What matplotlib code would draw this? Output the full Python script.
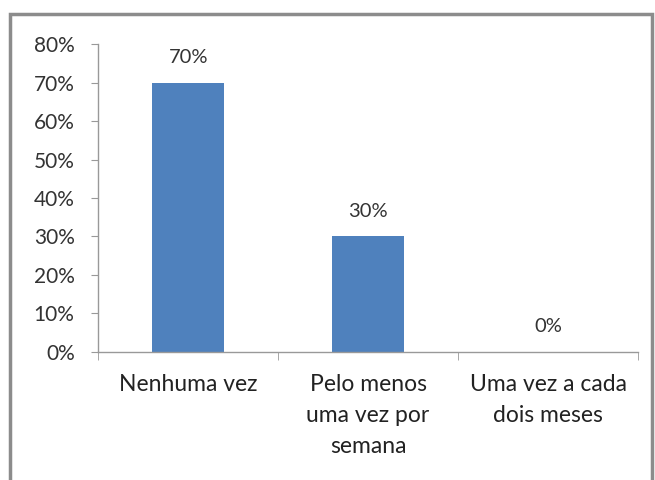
import numpy as np
import matplotlib.pyplot as plt
from matplotlib.patches import Rectangle

# respostas e percentagens
categorias = ["Nenhuma vez", "Pelo menos\numa vez por\nsemana", "Uma vez a cada\ndois meses"]
valores = [70, 30, 0]
rotulos = ["70%", "30%", "0%"]
yticks = [0, 10, 20, 30, 40, 50, 60, 70, 80]

plt.rcParams['font.family'] = ['Lato', 'DejaVu Sans']

fig = plt.figure(figsize=(6.55, 4.8), dpi=100)
ax = fig.add_axes([0.150, 0.267, 0.824, 0.641])

x = np.arange(len(categorias))
barras = ax.bar(x, valores, width=0.4, color='#4F81BD')

for b, txt in zip(barras, rotulos):
    ax.annotate(txt, (b.get_x() + b.get_width() / 2, b.get_height()),
                xytext=(0, 12), textcoords='offset points',
                ha='center', va='bottom', fontsize=14.5, color='#333333')

ax.set_xlim(-0.5, len(categorias) - 0.5)
ax.set_ylim(0, 80)
ax.set_yticks(yticks)
ax.set_yticklabels([f"{v}%" for v in yticks], fontsize=15, color='#333333')

# rótulos das categorias no centro, marcas entre categorias
ax.set_xticks(x)
ax.set_xticklabels(categorias, fontsize=16.5, color='#222222', linespacing=1.6, va='top')
ax.tick_params(axis='x', length=0, pad=16)
ax.set_xticks(np.arange(-0.5, len(categorias)), minor=True)
ax.tick_params(axis='x', which='minor', length=6, color='#999999', direction='out')
ax.tick_params(axis='y', length=5, color='#999999', direction='out', pad=12)

for s in ['top', 'right']:
    ax.spines[s].set_visible(False)
for s in ['left', 'bottom']:
    ax.spines[s].set_color('#999999')
    ax.spines[s].set_linewidth(1)

# moldura do gráfico
fig.patches.append(Rectangle((10 / 655, -0.05), 642 / 655, 1.05 - 14 / 480,
                             transform=fig.transFigure, fill=False,
                             edgecolor='#8c8c8c', linewidth=2.5))

fig.savefig('out.png', dpi=100)
